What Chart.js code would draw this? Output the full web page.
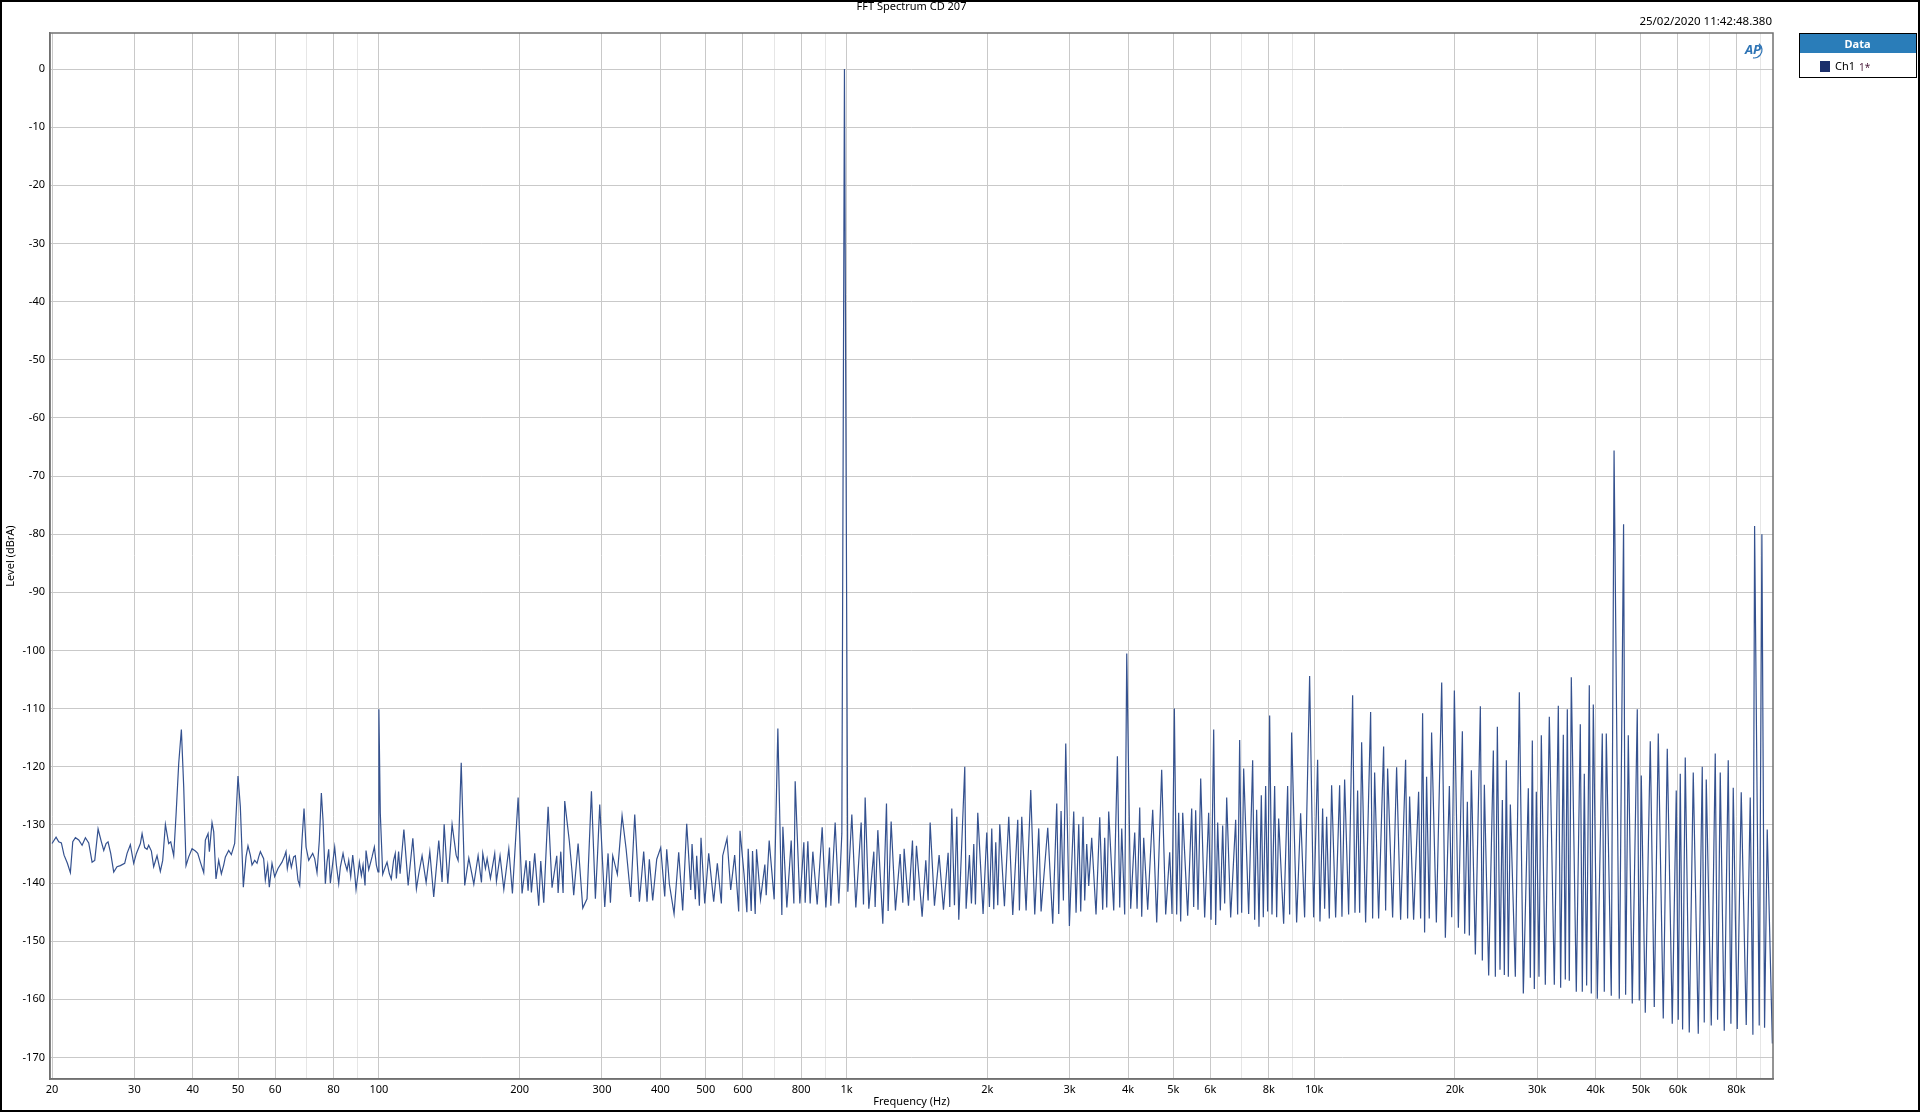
<!DOCTYPE html>
<html>
<head>
<meta charset="utf-8">
<title>FFT Spectrum CD 207</title>
<script src="https://cdn.jsdelivr.net/npm/chart.js"></script>
<style>
  html, body { margin:0; padding:0; background:#fff; }
  #wrap { width:1920px; height:1112px; }
</style>
</head>
<body>
<div id="wrap"><canvas id="fft" width="1920" height="1112"></canvas></div>
<script>
// --- FFT spectrum, Ch1 ---
// [frequency Hz, level dBrA]
const seg20to110 = [[20.0,-133.2],[20.4,-132.1],[20.67,-132.9],[20.94,-133.1],[21.22,-135.2],[21.57,-136.6],[21.89,-138.2],[22.15,-132.9],[22.44,-132.2],[22.81,-132.6],[23.19,-133.5],[23.57,-132.2],[23.96,-133.1],[24.36,-136.4],[24.68,-136.1],[25.09,-130.7],[25.5,-132.9],[25.8,-134.4],[26.1,-133.2],[26.35,-132.9],[26.7,-134.9],[27.1,-138.1],[27.54,-137.2],[28.0,-137.0],[28.6,-136.6],[28.94,-134.9],[29.41,-133.4],[29.9,-136.6],[30.3,-134.9],[30.9,-133.2],[31.16,-131.5],[31.56,-133.9],[31.93,-134.2],[32.19,-133.5],[32.62,-134.5],[32.99,-137.2],[33.54,-135.3],[34.09,-138.0],[34.49,-136.1],[34.95,-129.9],[35.52,-133.2],[35.88,-132.9],[36.41,-135.3],[36.83,-128.3],[37.32,-119.4],[37.81,-113.6],[38.25,-123.5],[38.69,-137.0],[39.2,-135.5],[39.85,-134.1],[40.51,-134.5],[40.98,-134.9],[41.52,-136.4],[42.21,-138.2],[42.55,-132.6],[43.12,-131.5],[43.4,-134.6],[43.97,-129.6],[44.34,-131.2],[44.84,-139.3],[45.44,-136.1],[46.04,-138.4],[46.57,-136.9],[46.96,-135.5],[47.73,-134.4],[48.36,-135.1],[49.16,-133.2],[49.97,-121.6],[50.55,-126.9],[51.3,-140.7],[51.98,-135.5],[52.49,-133.6],[53.1,-135.2],[53.54,-136.9],[54.25,-136.1],[54.88,-136.6],[55.33,-135.5],[55.79,-134.6],[56.7,-135.8],[57.17,-139.5],[57.83,-136.9],[58.3,-140.7],[59.08,-136.6],[59.86,-138.9],[60.85,-137.5],[62.06,-136.4],[62.88,-135.3],[63.29,-134.6],[63.71,-137.5],[64.34,-135.5],[64.98,-137.3],[65.73,-135.5],[66.27,-135.3],[67.15,-139.5],[67.71,-140.4],[68.49,-132.6],[69.17,-127.2],[69.86,-133.8],[70.78,-136.1],[72.19,-134.9],[72.9,-135.8],[73.74,-138.2],[74.59,-132.6],[75.33,-124.5],[75.95,-129.2],[76.83,-140.1],[77.46,-136.4],[78.1,-134.2],[78.74,-140.0],[79.66,-136.6],[80.44,-133.8],[81.11,-136.9],[82.05,-140.1],[82.73,-137.2],[83.82,-134.9],[84.51,-136.4],[85.49,-137.8],[86.2,-136.1],[87.05,-138.9],[87.91,-135.2],[88.78,-138.4],[89.36,-141.1],[90.25,-138.4],[90.84,-136.4],[91.74,-138.7],[92.5,-136.9],[93.41,-140.4],[93.87,-134.4],[95.11,-137.7],[95.9,-136.6],[96.69,-135.5],[97.8,-133.8],[98.77,-136.9],[99.58,-138.1],[100.0,-110.1],[100.7,-128.0],[101.9,-138.5],[103.2,-137.2],[104.1,-136.4],[105.3,-138.4],[106.3,-139.3],[107.5,-136.1],[108.4,-134.9],[109.0,-139.2],[110.2,-134.6]];

const seg110to600 = [[111.0,-138.4],[113.1,-130.8],[115.5,-140.4],[118.2,-132.3],[120.3,-141.0],[121.7,-138.4],[123.7,-135.3],[126.2,-139.9],[128.5,-134.6],[131.0,-142.4],[134.3,-132.7],[136.5,-139.8],[137.9,-129.9],[140.4,-140.1],[143.4,-129.9],[146.3,-135.2],[147.7,-136.1],[150.0,-119.3],[152.6,-140.4],[155.7,-135.7],[159.6,-140.2],[163.0,-135.3],[165.7,-139.9],[166.8,-134.9],[169.0,-137.5],[170.4,-135.8],[173.2,-139.2],[176.9,-134.9],[178.4,-139.7],[181.6,-135.3],[185.0,-141.1],[189.6,-134.1],[193.0,-141.8],[198.5,-125.3],[202.4,-141.8],[206.4,-136.1],[208.5,-141.3],[210.2,-136.2],[211.9,-141.6],[215.4,-134.9],[219.7,-143.9],[221.9,-136.2],[225.2,-143.4],[230.1,-126.9],[234.6,-140.8],[240.1,-135.3],[241.7,-141.7],[244.9,-134.6],[247.7,-141.7],[249.7,-125.9],[255.5,-132.9],[258.9,-138.1],[261.0,-142.1],[266.7,-133.2],[272.9,-144.3],[278.7,-142.7],[284.8,-124.2],[290.4,-142.7],[293.3,-135.6],[296.7,-126.5],[304.1,-144.1],[309.1,-134.9],[312.7,-143.4],[316.3,-135.3],[323.6,-138.5],[331.2,-128.4],[337.8,-134.1],[345.6,-142.4],[352.5,-128.2],[360.7,-143.2],[368.4,-134.6],[374.5,-143.2],[378.8,-135.9],[385.1,-143.0],[392.8,-135.9],[400.6,-133.9],[408.6,-142.3],[412.6,-134.2],[418.1,-140.2],[427.8,-145.3],[437.7,-134.7],[446.4,-144.7],[455.3,-129.8],[464.4,-141.2],[467.4,-133.3],[475.1,-142.8],[478.2,-135.3],[484.6,-143.9],[488.5,-132.2],[497.5,-143.5],[507.4,-134.9],[520.0,-143.2],[529.4,-136.6],[540.0,-143.5],[543.6,-135.3],[555.3,-132.3],[565.4,-141.2],[576.6,-135.2],[588.1,-144.9],[592.0,-131.0],[603.7,-138.4]];

const seg600to3k = [[612.3,-145.0],[616.3,-134.1],[625.5,-144.8],[629.6,-134.5],[637.9,-145.3],[642.1,-134.2],[654.9,-142.8],[669.0,-136.8],[673.4,-142.1],[683.4,-132.7],[700.4,-142.8],[713.2,-113.4],[727.4,-145.5],[731.0,-130.3],[745.5,-144.2],[761.6,-132.7],[771.7,-143.5],[776.7,-122.5],[794.8,-143.5],[810.6,-133.0],[815.9,-143.4],[826.7,-132.8],[836.2,-143.5],[847.3,-134.6],[865.6,-143.7],[887.1,-130.4],[903.3,-144.2],[919.7,-133.9],[925.8,-143.9],[945.7,-129.6],[963.0,-143.5],[977.3,-131.5],[990,0],[1006.6,-141.5],[1026.6,-128.2],[1047.0,-144.2],[1074.9,-129.6],[1087.3,-143.7],[1096.2,-125.3],[1116.2,-144.4],[1144.0,-134.6],[1151.5,-144.1],[1166.8,-130.9],[1195.8,-147.0],[1217.6,-126.3],[1227.6,-144.8],[1245.9,-129.4],[1272.7,-144.7],[1302.3,-135.0],[1319.5,-143.4],[1328.2,-134.1],[1356.9,-143.9],[1383.9,-132.7],[1395.2,-143.0],[1411.4,-133.6],[1451.3,-145.8],[1477.7,-136.1],[1494.8,-143.0],[1509.6,-129.6],[1542.1,-143.9],[1577.9,-135.2],[1612.0,-144.6],[1649.4,-134.8],[1663.0,-144.1],[1679.5,-127.2],[1701.7,-143.8],[1721.3,-128.6],[1738.3,-146.3],[1790.4,-120.0],[1802.2,-144.4],[1832.0,-135.2],[1850.1,-143.5],[1871.5,-133.3],[1886.9,-143.7],[1908.7,-127.9],[1959.4,-145.3],[1995.1,-131.3],[2021.5,-144.1],[2044.9,-130.6],[2065.1,-144.5],[2085.5,-133.0],[2106.1,-143.8],[2127.0,-129.9],[2176.4,-144.0],[2223.4,-128.6],[2267.6,-145.5],[2324.1,-129.1],[2343.2,-144.7],[2370.3,-128.6],[2421.4,-144.7],[2477.7,-124.0],[2526.9,-145.4],[2577.2,-130.6],[2606.9,-144.9],[2693.9,-130.5],[2761.0,-147.0],[2816.0,-126.3],[2843.7,-145.3],[2876.6,-127.6],[2909.9,-143.0],[2943.5,-116.0],[2997.0,-147.4],[3061.7,-127.7],[3096.9,-145.1],[3138.0,-129.9],[3168.9,-144.9],[3205.6,-128.6],[3232.0,-143.0],[3263.8,-133.3],[3296.2,-140.5]];

const seg3kto18k = [[3345,-132.2],[3417,-145.4],[3480,-128.7],[3531,-144.6],[3566,-132.2],[3602,-144.2],[3637,-127.7],[3728,-144.7],[3796,-118.2],[3840,-144.2],[3878,-130.6],[3935,-145.4],[3975,-100.5],[4053,-144.4],[4134,-131.3],[4182,-144.4],[4237,-127.0],[4279,-145.8],[4321,-132.2],[4407,-144.6],[4517,-127.4],[4607,-146.8],[4721,-120.5],[4815,-145.4],[4911,-134.7],[4968,-145.3],[5025,-110.0],[5083,-145.4],[5133,-127.9],[5184,-146.6],[5236,-127.9],[5366,-145.6],[5473,-127.2],[5527,-144.1],[5581,-127.5],[5646,-144.6],[5721,-122.0],[5834,-145.9],[5950,-127.9],[6019,-146.3],[6099,-113.6],[6159,-147.2],[6220,-129.6],[6302,-144.7],[6375,-130.1],[6438,-143.5],[6502,-125.3],[6631,-145.9],[6796,-129.1],[6863,-145.4],[6931,-115.4],[7000,-145.1],[7069,-120.3],[7245,-145.3],[7389,-118.9],[7462,-146.3],[7536,-127.4],[7623,-147.5],[7711,-124.9],[7787,-145.9],[7877,-123.3],[7955,-144.9],[8034,-111.2],[8127,-145.4],[8234,-123.3],[8316,-145.9],[8398,-128.9],[8607,-147.0],[8778,-123.3],[8865,-145.4],[8953,-114.1],[9176,-146.8],[9358,-128.0],[9544,-145.9],[9782,-104.4],[9977,-145.9],[10175,-118.8],[10293,-146.6],[10429,-127.2],[10532,-144.4],[10636,-128.6],[10777,-146.1],[10901,-123.2],[11118,-145.9],[11339,-123.2],[11470,-145.8],[11622,-122.2],[11853,-145.4],[12089,-107.7],[12229,-145.1],[12390,-124.1],[12513,-145.1],[12637,-115.8],[12888,-146.8],[13209,-110.6],[13340,-146.1],[13472,-121.0],[13740,-146.1],[14082,-116.5],[14222,-144.7],[14362,-120.3],[14720,-145.9],[15013,-120.1],[15311,-146.3],[15692,-118.8],[15848,-146.1],[16005,-125.1],[16323,-146.3],[16730,-124.3],[16895,-146.1],[17062,-110.8],[17231,-148.5],[17401,-121.7],[17631,-146.1],[17835,-114.1]];

const seg18kto96k = [[18258,-146.8],[18744,-105.5],[19085,-149.4],[19465,-123.3],[19690,-145.9],[19950,-106.9],[20347,-147.7],[20751,-113.9],[20991,-148.7],[21268,-126.0],[21479,-149.0],[21691,-120.6],[22123,-152.3],[22674,-109.6],[22898,-153.3],[23125,-123.1],[23623,-155.9],[24172,-117.2],[24411,-156.1],[24653,-113.1],[24978,-154.9],[25267,-125.7],[25517,-155.8],[25769,-118.9],[26024,-156.1],[26282,-126.5],[26936,-156.1],[27472,-107.2],[28018,-159.0],[28716,-123.7],[29000,-156.3],[29287,-115.5],[29577,-158.2],[29869,-124.3],[30263,-156.1],[30613,-114.6],[31222,-157.5],[31842,-111.4],[32636,-157.5],[33285,-109.5],[33670,-158.0],[34114,-114.5],[34452,-156.6],[34793,-110.1],[35137,-156.8],[35484,-104.6],[36368,-158.7],[37091,-112.7],[37458,-158.7],[37829,-121.2],[38266,-157.6],[38771,-106.0],[39155,-159.0],[39542,-109.3],[40328,-159.9],[41333,-114.3],[41743,-158.7],[42156,-114.3],[43206,-159.4],[43800,-65.6],[44942,-159.9],[45900,-78.3],[46365,-159.2],[46977,-114.6],[47911,-160.7],[49105,-110.1],[49591,-160.2],[50081,-121.5],[51077,-162.3],[52350,-115.6],[53391,-161.3],[54453,-114.3],[55809,-163.3],[56919,-116.9],[58337,-164.2],[59497,-124.1],[60085,-163.5],[60680,-121.2],[61381,-165.2],[62192,-118.4],[63429,-165.7],[64690,-121.0],[66302,-165.9],[67620,-120.0],[68289,-164.0],[68964,-122.2],[70683,-164.5],[72088,-117.7],[72921,-163.5],[73884,-121.0],[75354,-165.4],[76851,-118.9],[77867,-164.2],[78766,-123.6],[80333,-165.1],[81930,-124.4],[83971,-164.4],[85641,-125.3],[86772,-166.1],[87500,-78.6],[89520,-164.5],[90700,-80.0],[91901,-164.9],[93116,-130.8],[95500,-167.6]];

// axis ticks
const xTickValues = [20,30,40,50,60,70,80,90,100,200,300,400,500,600,700,800,900,1000,2000,3000,4000,5000,6000,7000,8000,9000,10000,20000,30000,40000,50000,60000,70000,80000,90000];
const xTickLabels = ['20','30','40','50','60','','80','','100','200','300','400','500','600','','800','','1k','2k','3k','4k','5k','6k','','8k','','10k','20k','30k','40k','50k','60k','','80k',''];
const yTickValues = [0,-10,-20,-30,-40,-50,-60,-70,-80,-90,-100,-110,-120,-130,-140,-150,-160,-170];

const chartTitle = 'FFT Spectrum CD 207';
const stampText = '25/02/2020 11:42:48.380';
const seriesName = 'Ch1';
const FONT = "'Noto Sans', 'DejaVu Sans', sans-serif";
const lineColor = '#34518f';

const allPoints = [].concat(seg20to110, seg110to600, seg600to3k, seg3kto18k, seg18kto96k)
  .map(p => ({x:p[0], y:p[1]}));

// titles, frame, legend box and logo drawn on top
const decor = {
  id: 'decor',
  beforeDraw(chart) {
    const c = chart.ctx;
    c.save();
    c.fillStyle = '#fff';
    c.fillRect(0, 0, chart.width, chart.height);
    c.restore();
  },
  afterDraw(chart) {
    const c = chart.ctx, a = chart.chartArea;
    c.save();
    // plot frame
    c.strokeStyle = '#707070';
    c.lineWidth = 1.5;
    c.strokeRect(a.left, a.top, a.right - a.left, a.bottom - a.top);

    c.fillStyle = '#000';
    c.font = '11px ' + FONT;
    c.textBaseline = 'middle';
    c.textAlign = 'center';
    c.fillText(chartTitle, (a.left + a.right) / 2, 7);
    c.textAlign = 'right';
    c.font = '11.5px ' + FONT;
    c.fillText(stampText, a.right - 1, 22);
    c.font = '11px ' + FONT;
    c.textAlign = 'center';
    c.fillText('Frequency (Hz)', (a.left + a.right) / 2, 1102);
    c.save();
    c.translate(11, (a.top + a.bottom) / 2);
    c.rotate(-Math.PI / 2);
    c.fillText('Level (dBrA)', 0, 0);
    c.restore();

    // AP logo
    c.fillStyle = '#2e74b5';
    c.strokeStyle = '#2e74b5';
    c.font = 'italic bold 13px ' + FONT;
    c.textAlign = 'center';
    c.fillText('AP', 1753, 50);
    c.lineWidth = 1.2;
    c.beginPath();
    c.arc(1754, 50, 8, -0.9, 1.7);
    c.stroke();

    // legend box
    const lx = 1799, ly = 33, lw = 117, lh = 44;
    c.fillStyle = '#2a7db9';
    c.fillRect(lx, ly, lw, 20);
    c.strokeStyle = '#000';
    c.lineWidth = 1;
    c.strokeRect(lx + 0.5, ly + 0.5, lw, lh);
    c.fillStyle = '#fff';
    c.font = 'bold 11px ' + FONT;
    c.textAlign = 'center';
    c.fillText('Data', lx + lw / 2, ly + 12);
    c.fillStyle = '#1b2f6b';
    c.fillRect(1820, 61, 10, 11);
    c.fillStyle = '#000';
    c.font = '11px ' + FONT;
    c.textAlign = 'left';
    c.fillText(seriesName, 1835, 67);
    c.fillStyle = '#4a1a3a';
    c.font = '10px ' + FONT;
    c.fillText('1*', 1859, 68);

    // outer picture border
    c.strokeStyle = '#000';
    c.lineWidth = 2;
    c.strokeRect(1, 1, chart.width - 2, chart.height - 2);
    c.restore();
  }
};

const ctx = document.getElementById('fft').getContext('2d');
const chart = new Chart(ctx, {
  type: 'line',
  data: {
    datasets: [{
      label: seriesName,
      data: allPoints,
      borderColor: lineColor,
      borderWidth: 1.2,
      pointRadius: 0,
      tension: 0,
      fill: false
    }]
  },
  options: {
    responsive: false,
    animation: false,
    devicePixelRatio: 1,
    layout: {padding: {top: 33, right: 147, left: 0, bottom: 0}},
    plugins: {legend: {display: false}, tooltip: {enabled: false}, title: {display: false}},
    scales: {
      x: {
        type: 'logarithmic',
        min: 19.8,
        max: 95800,
        afterBuildTicks: s => { s.ticks = xTickValues.map(v => ({value: v})); },
        afterFit: s => { s.height = 33; },
        ticks: {
          autoSkip: false, maxRotation: 0, padding: 4, color: '#000',
          font: {family: FONT, size: 11},
          callback: (v, i) => xTickLabels[i]
        },
        grid: {
          drawTicks: false,
          color: c => (xTickLabels[xTickValues.indexOf(c.tick && c.tick.value)] === '' ? '#e6e6e6' : '#c9c9c9'),
          lineWidth: 1
        },
        border: {display: true, color: '#707070', width: 1.5}
      },
      y: {
        type: 'linear',
        min: -173.7,
        max: 6.2,
        afterBuildTicks: s => { s.ticks = yTickValues.map(v => ({value: v})); },
        afterFit: s => { s.width = 50; },
        ticks: {padding: 5, color: '#000', font: {family: FONT, size: 11}},
        grid: {drawTicks: false, color: '#c9c9c9', lineWidth: 1},
        border: {display: true, color: '#707070', width: 1.5}
      }
    }
  },
  plugins: [decor]
});
</script>
</body>
</html>
